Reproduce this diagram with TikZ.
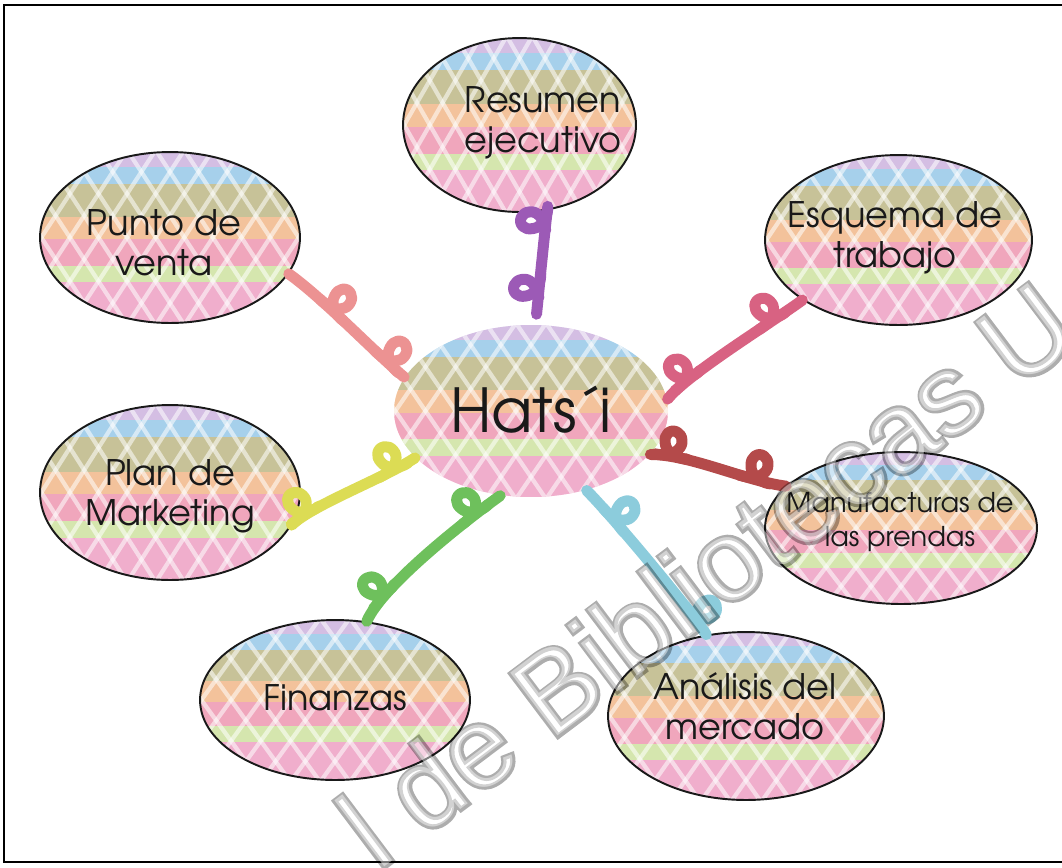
\documentclass[tikz,border=0pt]{standalone}
\usepackage{fontspec}
\setmainfont{texgyreadventor-regular.otf}
\newfontfamily\wmfont{Liberation Sans}
\usepackage{xcolor}
\usepackage{tikz}
\usetikzlibrary{shapes, calc}

\definecolor{lavband}{RGB}{200,172,220}
\definecolor{blueband}{RGB}{142,196,230}
\definecolor{oliveband}{RGB}{184,178,124}
\definecolor{orangeband}{RGB}{240,178,128}
\definecolor{pinkband}{RGB}{236,142,170}
\definecolor{greenband}{RGB}{202,224,152}
\definecolor{roseband}{RGB}{236,152,190}
\definecolor{curlpink}{RGB}{236,146,146}
\definecolor{curlrose}{RGB}{216,98,130}
\definecolor{curlred}{RGB}{180,74,74}
\definecolor{curlyellow}{RGB}{220,220,84}
\definecolor{curlgreen}{RGB}{110,192,92}
\definecolor{curlblue}{RGB}{140,204,220}
\definecolor{curlpurple}{RGB}{156,90,182}

% outlined letters for the watermark
\newcommand\hollow[1]{\special{pdf:literal direct 1 Tr 3 w}#1\special{pdf:literal direct 0 Tr}}

\tikzset{
  bubble/.style={ellipse, draw=black!90, line width=1.1pt, inner sep=0pt},
  lbl/.style={align=center, inner sep=0pt, text=black!90, font=\fontsize{20}{23}\selectfont},
  weft/.style={white, opacity=0.55, line width=2.4pt},
  curl/.style={line width=0.22cm, line cap=round, line join=round},
  onpath/.style={pos=#1, sloped, allow upside down},
  wmark/.style={anchor=base west, rotate=37, inner sep=0pt, font=\wmfont\fontsize{65}{65}\selectfont},
  pics/weave/.style={code={
    \begin{scope}
      \clip (0,0) circle (1);
      \fill[lavband] (-1,-1) rectangle (1,-0.83);
      \fill[blueband] (-1,-0.83) rectangle (1,-0.63);
      \fill[oliveband] (-1,-0.63) rectangle (1,-0.24);
      \fill[orangeband] (-1,-0.24) rectangle (1,0.02);
      \fill[pinkband] (-1,0.02) rectangle (1,0.33);
      \fill[greenband] (-1,0.33) rectangle (1,0.52);
      \fill[roseband] (-1,0.52) rectangle (1,1);
      \foreach \c in {-1.43,-1.21,...,1.5} {
        \draw[weft] (\c-0.43,-1) -- (\c+0.43,1);
        \draw[weft] (\c+0.43,-1) -- (\c-0.43,1);
      }
      \fill[white, opacity=0.22] (-1,-1) rectangle (1,1);
    \end{scope}
  }},
  pics/eloop/.style={code={
    \draw[curl, #1, x=0.025cm, y=0.025cm] plot[smooth, tension=0.8] coordinates
      {(-12,0) (-2,1) (6,6) (8,14) (3,20) (-4,18) (-5,10) (0,3) (8,0) (14,0)};
  }}
}

% patterned ellipse: options, name, centre, x radius, y radius
\newcommand\tela[5][]{%
  \pic[xscale=#4, yscale=#5] at (#3) {weave};
  \node[bubble, minimum width=#4*0.04cm, minimum height=#5*0.04cm, #1] (#2) at (#3) {};
}

\begin{document}
\begin{tikzpicture}[x=0.02cm, y=-0.02cm]
  \useasboundingbox (0,0) rectangle (1062,867);
  \draw[line width=0.04cm] (4,5) rectangle (1075,862);

  \tela{res}{519.5,125}{116.5}{87}
  \tela{punto}{170,237.5}{130}{85.5}
  \tela{esq}{898.5,240}{133.5}{85}
  \tela[draw=none]{hub}{531,411}{137}{86}
  \tela{mkt}{170,492.5}{130}{87.5}
  \tela{manuf}{901,528}{136}{76}
  \tela{fin}{335,700}{135}{80}
  \tela{ana}{746,716}{138}{84}

  \node[lbl] (res-t) at (543,123) {Resumen\\ejecutivo};
  \node[lbl] (punto-t) at (164,243) {Punto de\\venta};
  \node[lbl] (esq-t) at (895,238) {Esquema de\\trabajo};
  \node[lbl, font=\fontsize{34.5}{40}\selectfont] (hub-t) at (531,410) {Hats´i};
  \node[lbl] (mkt-t) at (170,496) {Plan de\\Marketing};
  \node[lbl, font=\fontsize{15.5}{19}\selectfont] (manuf-t) at (900,522) {Manufacturas de\\las prendas};
  \node[lbl] (fin-t) at (335,698) {Finanzas};
  \node[lbl] (ana-t) at (745,706) {Análisis del\\mercado};

  \draw[curl, curlpink] (punto.-17) .. controls +(35,25) and +(-30,-25) .. (hub.165)
    pic[onpath=0.36]{eloop=curlpink} pic[onpath=0.82]{eloop=curlpink};
  \draw[curl, curlrose] (hub.5) .. controls +(20,-25) and +(-30,22) .. (esq.212)
    pic[onpath=0.2]{eloop=curlrose} pic[onpath=0.75]{eloop=curlrose};
  \draw[curl, curlred] (hub.-20) .. controls +(40,0) and +(-40,-5) .. (manuf.160)
    pic[onpath=0.15]{eloop=curlred} pic[onpath=0.75]{eloop=curlred};
  \draw[curl, curlyellow] (mkt.-15) .. controls +(20,-20) and +(-30,20) .. (hub.202)
    pic[onpath=0.15]{eloop=curlyellow} pic[onpath=0.8]{eloop=curlyellow};
  \draw[curl, curlgreen] (fin.68) .. controls +(15,-35) and +(-35,25) .. (hub.250)
    pic[onpath=0.2]{eloop=curlgreen} pic[onpath=0.8]{eloop=curlgreen};
  \draw[curl, curlblue] (hub.-55) .. controls +(25,25) and +(-20,-30) .. (ana.116)
    pic[onpath=0.25]{eloop=curlblue} pic[onpath=0.85]{eloop=curlblue};
  \draw[curl, curlpurple, shorten <=0.2cm] (hub.87) .. controls +(3,-30) and +(-3,25) .. (res.-72)
    pic[onpath=0.3]{eloop=curlpurple} pic[onpath=0.85]{eloop=curlpurple};

  \node[wmark, opacity=0.32, text=black] (wm) at (378,872) {\hollow{l de Bibliotecas U}};
  \node[wmark, text=white, text opacity=0.45] (wm-fill) at (378,872) {l de Bibliotecas U};
\end{tikzpicture}
\end{document}
